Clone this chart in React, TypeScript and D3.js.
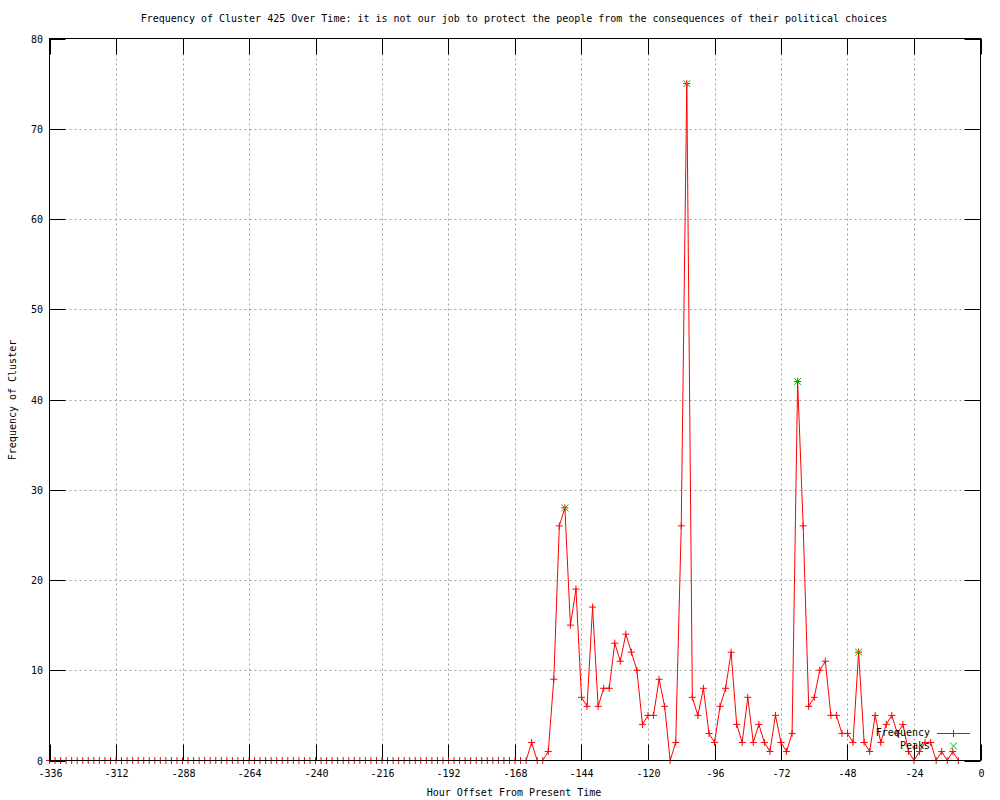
import React from "react";
import * as d3 from "d3";

const startHour = -336;
const zeroRun = 87; // hours -336 .. -164 are all zero
const activeHours = [
  -162, -160, -158, -156, -154, -152, -150, -148, -146, -144, -142, -140, -138, -136, -134, -132,
  -130, -128, -126, -124, -122, -120, -118, -116, -114, -112, -110, -108, -106, -104, -102, -100,
  -98, -96, -94, -92, -90, -88, -86, -84, -82, -80, -78, -76, -74, -72, -70, -68, -66, -64, -62,
  -60, -58, -56, -54, -52, -50, -48, -46, -44, -42, -40, -38, -36, -34, -32, -30, -28, -26, -24,
  -22, -20, -18, -16, -14, -12, -10, -8,
];
const activeValues = [
  2, 0, 0, 1, 9, 26, 28, 15, 19, 7, 6, 17, 6, 8, 8, 13,
  11, 14, 12, 10, 4, 5, 5, 9, 6, 0, 2, 26, 75, 7, 5, 8,
  3, 2, 6, 8, 12, 4, 2, 7, 2, 4, 2, 1, 5, 2, 1, 3, 42, 26, 6,
  7, 10, 11, 5, 5, 3, 3, 2, 12, 2, 1, 5, 2, 4, 5, 3, 4, 1, 0,
  1, 2, 2, 0, 1, 0, 1, 0,
];
const peakHours = [-150, -106, -66, -44];
const peakValues = [28, 75, 42, 12];

const xTicks = [-336, -312, -288, -264, -240, -216, -192, -168, -144, -120, -96, -72, -48, -24, 0];
const yTicks = [0, 10, 20, 30, 40, 50, 60, 70, 80];

const titleText =
  "Frequency of Cluster 425 Over Time: it is not our job to protect the people from the consequences of their political choices";
const xLabel = "Hour Offset From Present Time";
const yLabel = "Frequency of Cluster";

const zeroHours = d3.range(zeroRun).map((i) => startHour + i * 2);
const freqData: [number, number][] = [
  ...zeroHours.map((h) => [h, 0] as [number, number]),
  ...activeHours.map((h, i) => [h, activeValues[i]] as [number, number]),
];
const peakData: [number, number][] = peakHours.map((h, i) => [h, peakValues[i]]);

const W = 1000;
const H = 800;
const L = 49.5;
const R = 980.5;
const T = 38.5;
const B = 760.5;
const FONT = "'DejaVu Sans Mono', 'Liberation Mono', monospace";
const RED = "#ff0000";
const GREEN = "#00c000";

export default function App() {
  const x = d3.scaleLinear().domain([-336, 0]).range([L, R]);
  const y = d3.scaleLinear().domain([0, 80]).range([B, T]);
  const line = d3
    .line<[number, number]>()
    .x((d) => x(d[0]))
    .y((d) => y(d[1]));
  const tick = 16;
  const ps = 3.5;
  const plus = (cx: number, cy: number, c: string, k: string) => (
    <path key={k} d={`M${cx - ps},${cy}H${cx + ps}M${cx},${cy - ps}V${cy + ps}`} stroke={c} strokeWidth={1} fill="none" />
  );
  const cross = (cx: number, cy: number, c: string, k: string) => (
    <path key={k} d={`M${cx - ps},${cy - ps}L${cx + ps},${cy + ps}M${cx - ps},${cy + ps}L${cx + ps},${cy - ps}`} stroke={c} strokeWidth={1} fill="none" />
  );
  return (
    <svg width={W} height={H} style={{ position: "absolute", left: 0, top: 0, background: "#fff" }} fontFamily={FONT} fontSize={10}>
      <rect x={0} y={0} width={W} height={H} fill="#fff" />
      {/* grid */}
      {xTicks.slice(1, -1).map((t) => (
        <line key={"gx" + t} x1={Math.round(x(t)) + 0.5} x2={Math.round(x(t)) + 0.5} y1={T} y2={B} stroke="#a0a0a0" strokeDasharray="2,3" />
      ))}
      {yTicks.slice(1, -1).map((t) => (
        <line key={"gy" + t} x1={L} x2={R} y1={Math.round(y(t)) + 0.5} y2={Math.round(y(t)) + 0.5} stroke="#a0a0a0" strokeDasharray="2,3" />
      ))}
      {/* ticks */}
      {xTicks.map((t) => {
        const px = Math.round(x(t)) + 0.5;
        return (
          <g key={"tx" + t}>
            <line x1={px} x2={px} y1={B} y2={B - tick} stroke="#000" />
            <line x1={px} x2={px} y1={T} y2={T + tick} stroke="#000" />
            <text x={px} y={B + 13} textAnchor="middle" dominantBaseline="middle">{t}</text>
          </g>
        );
      })}
      {yTicks.map((t) => {
        const py = Math.round(y(t)) + 0.5;
        return (
          <g key={"ty" + t}>
            <line x1={L} x2={L + tick} y1={py} y2={py} stroke="#000" />
            <line x1={R} x2={R - tick} y1={py} y2={py} stroke="#000" />
            <text x={43} y={py} textAnchor="end" dominantBaseline="middle">{t}</text>
          </g>
        );
      })}
      {/* frequency series */}
      <path d={line(freqData) || ""} fill="none" stroke={RED} strokeWidth={1} />
      {freqData.map((d, i) => plus(x(d[0]), y(d[1]), RED, "p" + i))}
      {/* peaks */}
      {peakData.map((d, i) => cross(x(d[0]), y(d[1]), GREEN, "k" + i))}
      {/* border */}
      <rect x={L} y={T} width={R - L} height={B - T} fill="none" stroke="#000" />
      {/* legend */}
      <text x={930} y={733} textAnchor="end" dominantBaseline="middle">Frequency</text>
      <line x1={937} x2={970} y1={733.5} y2={733.5} stroke={RED} />
      {plus(953.5, 733.5, RED, "lp")}
      <text x={930} y={746} textAnchor="end" dominantBaseline="middle">Peaks</text>
      {cross(953.5, 746, GREEN, "lk")}
      {/* titles */}
      <text x={514} y={19} textAnchor="middle" dominantBaseline="middle">{titleText}</text>
      <text x={514} y={793} textAnchor="middle" dominantBaseline="middle">{xLabel}</text>
      <text transform="translate(13,400) rotate(-90)" textAnchor="middle" dominantBaseline="middle">{yLabel}</text>
    </svg>
  );
}
